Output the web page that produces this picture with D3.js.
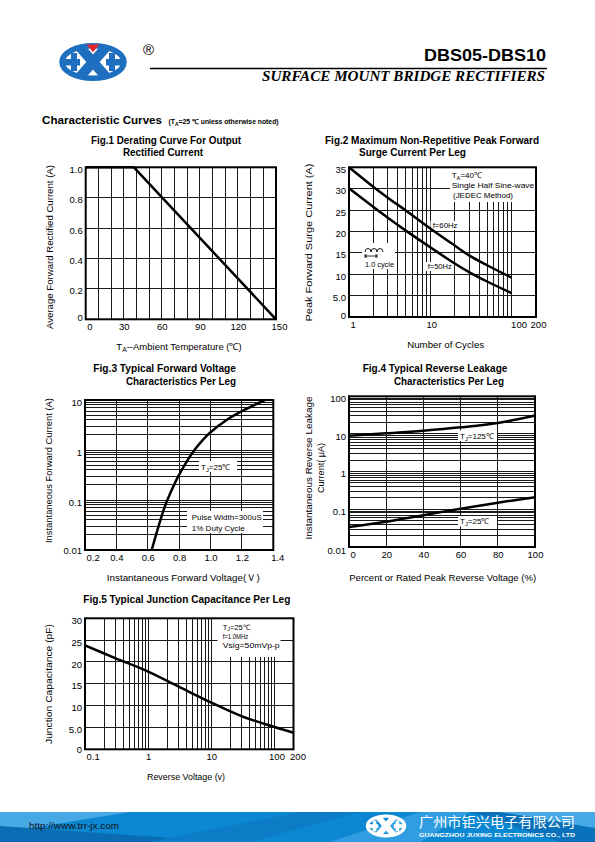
<!DOCTYPE html>
<html><head><meta charset="utf-8">
<script src="https://cdn.jsdelivr.net/npm/d3@7"></script>
<style>
html,body{margin:0;padding:0;background:#fff;}
svg{display:block;}
</style></head><body>
<svg id="page" width="595" height="842"></svg>
<script>
// ---------------- DATA ----------------
const fig1TempC = [0, 38, 150];
const fig1CurrentA = [1.0, 1.0, 0.0];
const fig1XTicks = [0, 30, 60, 90, 120, 150];
const fig1XLabels = ["0", "30", "60", "90", "120", "150"];
const fig1YTicks = [0, 0.2, 0.4, 0.6, 0.8, 1.0];
const fig1YLabels = ["0", "0.2", "0.4", "0.6", "0.8", "1.0"];

const fig2Cycles = [1, 2, 3, 5, 10, 20, 30, 50, 100];
const fig2Surge60Hz = [35, 30.4, 27.9, 24.9, 20.7, 16.7, 14.4, 12.1, 9.2];
const fig2Surge50Hz = [30.1, 25.7, 23.2, 20.2, 16.3, 12.5, 10.5, 8.3, 5.6];
const fig2XTicks = [1, 10, 100, 200];
const fig2XLabels = ["1", "10", "100", "200"];
const fig2YTicks = [0, 5, 10, 15, 20, 25, 30, 35];
const fig2YLabels = ["0", "5.0", "10", "15", "20", "25", "30", "35"];

const fig3VoltageV = [0.625, 0.7, 0.725, 0.79, 0.85, 0.9, 0.95, 1.0, 1.1, 1.2, 1.347];
const fig3CurrentA = [0.01, 0.062, 0.1, 0.28, 0.6, 1.02, 1.58, 2.26, 3.94, 5.96, 10];
const fig3XTicks = [0.2, 0.4, 0.6, 0.8, 1.0, 1.2, 1.4];
const fig3XLabels = ["0.2", "0.4", "0.6", "0.8", "1.0", "1.2", "1.4"];
const fig3YTicks = [0.01, 0.1, 1, 10];
const fig3YLabels = ["0.01", "0.1", "1", "10"];

const fig4PercentVr = [0, 20, 40, 60, 80, 100];
const fig4Leak125C = [9.0, 10.4, 12.2, 15.0, 19.6, 31.0];
const fig4Leak25C = [0.034, 0.047, 0.07, 0.104, 0.15, 0.21];
const fig4XTicks = [0, 20, 40, 60, 80, 100];
const fig4XLabels = ["0", "20", "40", "60", "80", "100"];
const fig4YTicks = [0.01, 0.1, 1, 10, 100];
const fig4YLabels = ["0.01", "0.1", "1", "10", "100"];

const fig5VoltageV = [0.1, 0.3, 1, 3, 10, 30, 100, 200];
const fig5CapPF = [23.8, 20.9, 17.8, 14.4, 10.7, 7.6, 5.1, 3.8];
const fig5XTicks = [0.1, 1, 10, 100, 200];
const fig5XLabels = ["0.1", "1", "10", "100", "200"];
const fig5YTicks = [0, 5, 10, 15, 20, 25, 30];
const fig5YLabels = ["0", "5.0", "10", "15", "20", "25", "30"];

// ---------------- RENDER ----------------
const FONT = "'Liberation Sans', Arial, Helvetica, sans-serif";
const svg = d3.select("#page");

function addText(parent, x, y, s, o = {}) {
  const size = o.size || 10;
  const t = parent.append("text").attr("x", x).attr("y", y)
    .attr("font-size", size).attr("font-family", o.family || FONT)
    .attr("font-weight", o.weight || "normal").attr("fill", o.fill || "#000")
    .attr("text-anchor", o.anchor || "start");
  if (o.italic) t.attr("font-style", "italic");
  if (o.rotate) t.attr("transform", `rotate(-90,${x},${y})`);
  if (o.parts) {
    o.parts.forEach(p => {
      const ts = t.append("tspan").text(p.t);
      if (p.sub) ts.attr("font-size", size * 0.72).attr("dy", size * 0.25);
      if (p.back) ts.attr("dy", -size * 0.25);
    });
  } else t.text(s);
  if (o.w) t.attr("textLength", o.w).attr("lengthAdjust", "spacingAndGlyphs");
  return t;
}

function logMinor(lo, hi) {
  const out = [];
  for (let e = Math.floor(Math.log10(lo)); e <= Math.ceil(Math.log10(hi)); e++) {
    for (let k = 1; k <= 9; k++) {
      const v = +(k * Math.pow(10, e)).toPrecision(6);
      if (v > lo * 1.0001 && v < hi * 0.9999) out.push(v);
    }
  }
  return out;
}

function drawPanel(c) {
  const g = svg.append("g");
  const x = (c.xLog ? d3.scaleLog() : d3.scaleLinear()).domain(c.xDomain).range([c.left, c.right]);
  const y = (c.yLog ? d3.scaleLog() : d3.scaleLinear()).domain(c.yDomain).range([c.bottom, c.top]);

  const gv = g.append("g").attr("stroke", "#1a1a1a").attr("stroke-width", 1).attr("shape-rendering", "crispEdges");
  gv.selectAll("line").data(c.xGrid).join("line")
    .attr("x1", d => x(d)).attr("x2", d => x(d)).attr("y1", c.top).attr("y2", c.bottom);
  const gh = g.append("g").attr("stroke", "#1a1a1a").attr("stroke-width", 1).attr("shape-rendering", "crispEdges");
  gh.selectAll("line").data(c.yGrid).join("line")
    .attr("x1", c.left).attr("x2", c.right).attr("y1", d => y(d)).attr("y2", d => y(d));

  g.append("g").selectAll("rect").data(c.boxes || []).join("rect")
    .attr("x", d => d[0]).attr("y", d => d[1]).attr("width", d => d[2]).attr("height", d => d[3])
    .attr("fill", "#fff");

  const line = d3.line().x(d => x(d[0])).y(d => y(d[1])).curve(c.curve || d3.curveCatmullRom.alpha(0.5));
  c.series.forEach(s => {
    g.append("path").datum(s.x.map((v, i) => [v, s.y[i]])).attr("d", line)
      .attr("fill", "none").attr("stroke", "#000").attr("stroke-width", 2.5)
      .attr("stroke-linejoin", "round");
  });

  g.append("rect").attr("x", c.left).attr("y", c.top)
    .attr("width", c.right - c.left).attr("height", c.bottom - c.top)
    .attr("fill", "none").attr("stroke", "#000").attr("stroke-width", 2);

  const ax = d3.axisBottom(x).tickValues(c.xTicks).tickFormat((d, i) => c.xLabels[i]).tickSize(0).tickPadding(4);
  const axg = g.append("g").attr("transform", `translate(0,${c.bottom})`).call(ax);
  axg.select(".domain").remove();
  axg.selectAll(".tick line").remove();
  axg.attr("font-family", FONT).attr("font-size", 9.5);
  axg.selectAll(".tick text").each(function (d, i) {
    const t = d3.select(this).attr("fill", "#000");
    if (i === 0) t.attr("text-anchor", "start").attr("x", 1);
    if (c.xDx && c.xDx[i]) t.attr("dx", c.xDx[i]);
  });
  const ay = d3.axisLeft(y).tickValues(c.yTicks).tickFormat((d, i) => c.yLabels[i]).tickSize(0).tickPadding(3);
  const ayg = g.append("g").attr("transform", `translate(${c.left},0)`).call(ay);
  ayg.select(".domain").remove();
  ayg.selectAll(".tick line").remove();
  ayg.attr("font-family", FONT).attr("font-size", 9.5);
  ayg.selectAll(".tick text").each(function (d, i) {
    d3.select(this).attr("fill", "#000").attr("y", i === 0 ? (c.bottomDy != null ? c.bottomDy : -2) : 2);
  });
  return g;
}

// ---------------- HEADER ----------------
function logo(cx, cy, s, col, tri) {
  const g = svg.append("g").attr("transform", `translate(${cx},${cy}) scale(${s})`);
  const id = "clip" + Math.round(cx);
  g.append("clipPath").attr("id", id).append("ellipse").attr("rx", 30).attr("ry", 15.5);
  g.append("ellipse").attr("rx", 31).attr("ry", 16.3).attr("fill", "none").attr("stroke", col).attr("stroke-width", 5.5);
  const inner = g.append("g").attr("clip-path", `url(#${id})`);
  inner.append("line").attr("x1", -15).attr("y1", -17).attr("x2", 15).attr("y2", 17).attr("stroke", col).attr("stroke-width", 10);
  inner.append("line").attr("x1", 15).attr("y1", -17).attr("x2", -15).attr("y2", 17).attr("stroke", col).attr("stroke-width", 10);
  inner.append("rect").attr("x", -30).attr("y", -3).attr("width", 17).attr("height", 6.5).attr("fill", col);
  inner.append("rect").attr("x", 13).attr("y", -3).attr("width", 17).attr("height", 6.5).attr("fill", col);
  inner.append("rect").attr("x", -22).attr("y", -9).attr("width", 6).attr("height", 18).attr("fill", col);
  inner.append("rect").attr("x", 16).attr("y", -9).attr("width", 6).attr("height", 18).attr("fill", col);
  if (tri) g.append("path").attr("d", "M-6.5,-17.5 L6.5,-17.5 L0,-10 Z").attr("fill", tri);
}
logo(93, 62, 1.0, "#1f6fc1", "#e0242a");
addText(svg, 143, 55, "®", { size: 15 });
addText(svg, 546, 61, "DBS05-DBS10", { size: 17, weight: "bold", anchor: "end", w: 122 });
svg.append("line").attr("x1", 150).attr("x2", 547).attr("y1", 68.5).attr("y2", 68.5).attr("stroke", "#000").attr("stroke-width", 1.6);
addText(svg, 545, 80.5, "SURFACE MOUNT BRIDGE RECTIFIERS", { size: 15, weight: "bold", italic: true, anchor: "end", family: "'Liberation Serif','Times New Roman',serif", w: 283 });

addText(svg, 42, 124, "Characteristic Curves", { size: 11.8, weight: "bold", w: 120 });
addText(svg, 168.5, 124, null, { size: 6.8, weight: "bold", parts: [{ t: "(T" }, { t: "A", sub: true }, { t: "=25 ℃ unless otherwise noted)", back: true }] });

// ---------------- FIG 1 ----------------
addText(svg, 166, 143.8, "Fig.1 Derating Curve For Output", { size: 10.5, weight: "bold", anchor: "middle", w: 150 });
addText(svg, 163, 155.5, "Rectified Current", { size: 10.5, weight: "bold", anchor: "middle", w: 80 });
drawPanel({
  left: 85.7, right: 276, top: 167.3, bottom: 319.3,
  xDomain: [0, 150], yDomain: [0, 1],
  xGrid: d3.range(10, 150, 10), yGrid: [0.2, 0.4, 0.6, 0.8],
  xTicks: fig1XTicks, xLabels: fig1XLabels, yTicks: fig1YTicks, yLabels: fig1YLabels,
  xDx: [0, 0, 0, 0, 0, 3],
  curve: d3.curveLinear,
  series: [{ x: fig1TempC, y: fig1CurrentA }]
});
addText(svg, 53, 247, "Average Forward Rectified Current (A)", { size: 9.5, anchor: "middle", rotate: true, w: 164 });
addText(svg, 179, 350, null, { size: 9.5, anchor: "middle", parts: [{ t: "T" }, { t: "A", sub: true }, { t: "--Ambient Temperature (℃)", back: true }] });

// ---------------- FIG 2 ----------------
addText(svg, 325, 143.8, "Fig.2 Maximum Non-Repetitive Peak Forward", { size: 10.5, weight: "bold", w: 214 });
addText(svg, 359, 155.5, "Surge Current Per Leg", { size: 10.5, weight: "bold", w: 107 });
drawPanel({
  left: 349, right: 536, top: 167.3, bottom: 317,
  xLog: true, xDomain: [1, 200], yDomain: [0, 35],
  xGrid: [2, 3, 4, 5, 6, 7, 8, 9, 10, 20, 30, 40, 50, 60, 70, 80, 90, 100], yGrid: [5, 10, 15, 20, 25, 30],
  xTicks: fig2XTicks, xLabels: fig2XLabels, yTicks: fig2YTicks, yLabels: fig2YLabels,
  xDx: [0, 1, 7, 2],
  boxes: [[450, 168, 85, 34], [430.5, 221, 28, 9], [426, 262, 28, 9], [362, 243, 33, 26]],
  series: [{ x: fig2Cycles, y: fig2Surge60Hz }, { x: fig2Cycles, y: fig2Surge50Hz }]
});
addText(svg, 451.7, 178, null, { size: 8, parts: [{ t: "T" }, { t: "A", sub: true }, { t: "=40℃", back: true }] });
addText(svg, 451.7, 188, "Single Half Sine-wave", { size: 8, w: 82.6 });
addText(svg, 453, 198, "(JEDEC Method)", { size: 8, w: 60 });
addText(svg, 432.7, 228, "f=60Hz", { size: 8, w: 24.7 });
addText(svg, 427.7, 269, "f=50Hz", { size: 8, w: 24 });
addText(svg, 365, 267, "1.0 cycle", { size: 8, w: 29 });
svg.append("path").attr("d", "M365,252 a3,3.5 0 0 1 6,0 a3,3.5 0 0 1 6,0 a3,3.5 0 0 1 6,0")
  .attr("fill", "none").attr("stroke", "#000").attr("stroke-width", 0.9);
svg.append("path").attr("d", "M365,254 L365,258 M377,254 L377,258 M365,256 L377,256 M365,256 l2,-1.3 M365,256 l2,1.3 M377,256 l-2,-1.3 M377,256 l-2,1.3")
  .attr("fill", "none").attr("stroke", "#000").attr("stroke-width", 0.8);
addText(svg, 311.5, 242.5, "Peak Forward Surge Current (A)", { size: 9.5, anchor: "middle", rotate: true, w: 158 });
addText(svg, 445.7, 347.5, "Number of Cycles", { size: 9.5, anchor: "middle", w: 77 });

// ---------------- FIG 3 ----------------
addText(svg, 93.3, 371.8, "Fig.3 Typical Forward Voltage", { size: 10.5, weight: "bold", w: 142.7 });
addText(svg, 126, 385, "Characteristics Per Leg", { size: 10.5, weight: "bold", w: 110 });
drawPanel({
  left: 85, right: 273.3, top: 400, bottom: 550,
  xDomain: [0.2, 1.4], yLog: true, yDomain: [0.01, 10],
  xGrid: [0.4, 0.6, 0.8, 1.0, 1.2], yGrid: logMinor(0.01, 10),
  xTicks: fig3XTicks, xLabels: fig3XLabels, yTicks: fig3YTicks, yLabels: fig3YLabels,
  xDx: [0, 0, 0, 0, 0, 0, 4], bottomDy: 0,
  boxes: [[199, 461, 38, 11], [187, 511, 76, 22]],
  series: [{ x: fig3VoltageV, y: fig3CurrentA }]
});
addText(svg, 201, 469.7, null, { size: 8, parts: [{ t: "T" }, { t: "J", sub: true }, { t: "=25℃", back: true }] });
addText(svg, 191.7, 519.7, "Pulse Width=300uS", { size: 8, w: 70 });
addText(svg, 191.7, 531.3, "1% Duty Cycle", { size: 8, w: 53 });
addText(svg, 52, 470.5, "Instantaneous Forward Current (A)", { size: 9.5, anchor: "middle", rotate: true, w: 145 });
addText(svg, 183.3, 581, "Instantaneous Forward Voltage(Ｖ)", { size: 9.5, anchor: "middle", w: 153 });

// ---------------- FIG 4 ----------------
addText(svg, 362.7, 371.8, "Fig.4 Typical Reverse Leakage", { size: 10.5, weight: "bold", w: 144.7 });
addText(svg, 394, 385, "Characteristics Per Leg", { size: 10.5, weight: "bold", w: 110 });
drawPanel({
  left: 349, right: 535, top: 396.3, bottom: 547,
  xDomain: [0, 100], yLog: true, yDomain: [0.01, 100],
  xGrid: [20, 40, 60, 80], yGrid: logMinor(0.01, 100),
  xTicks: fig4XTicks, xLabels: fig4XLabels, yTicks: fig4YTicks, yLabels: fig4YLabels,
  bottomDy: 3,
  boxes: [[458, 430.5, 39, 10.5], [458, 516, 39, 10.5]],
  series: [{ x: fig4PercentVr, y: fig4Leak125C }, { x: fig4PercentVr, y: fig4Leak25C }]
});
addText(svg, 460, 438.7, null, { size: 8, parts: [{ t: "T" }, { t: "J", sub: true }, { t: "=125℃", back: true }] });
addText(svg, 460, 523.7, null, { size: 8, parts: [{ t: "T" }, { t: "J", sub: true }, { t: "=25℃", back: true }] });
addText(svg, 312, 468, "Instantaneous Reverse Leakage", { size: 9.5, anchor: "middle", rotate: true, w: 143 });
addText(svg, 324, 468, "Current( μA)", { size: 9.5, anchor: "middle", rotate: true, w: 50 });
addText(svg, 442.7, 581, "Percent or Rated Peak Reverse Voltage (%)", { size: 9.5, anchor: "middle", w: 187 });

// ---------------- FIG 5 ----------------
addText(svg, 83.3, 602.5, "Fig.5 Typical Junction Capacitance Per Leg", { size: 10.5, weight: "bold", w: 207 });
drawPanel({
  left: 85, right: 293.5, top: 618.3, bottom: 749.3,
  xLog: true, xDomain: [0.1, 200], yDomain: [0, 30],
  xGrid: logMinor(0.1, 100).concat([100]), yGrid: [5, 10, 15, 20, 25],
  xTicks: fig5XTicks, xLabels: fig5XLabels, yTicks: fig5YTicks, yLabels: fig5YLabels,
  xDx: [0, 0, 0, 2, 4], bottomDy: 0,
  boxes: [[217.5, 619, 63, 38]],
  series: [{ x: fig5VoltageV, y: fig5CapPF }]
});
addText(svg, 222.7, 629.5, null, { size: 7.5, parts: [{ t: "T" }, { t: "J", sub: true }, { t: "=25℃", back: true }] });
addText(svg, 222.7, 639.3, "f=1.0MHz", { size: 7.5, w: 25.6 });
addText(svg, 222.7, 647.5, "Vsig=50mVp-p", { size: 7.5, w: 57 });
addText(svg, 52, 684, "Junction Capacitance (pF)", { size: 9.5, anchor: "middle", rotate: true, w: 120 });
addText(svg, 186, 780, "Reverse Voltage (v)", { size: 9.5, anchor: "middle", w: 78 });

// ---------------- FOOTER ----------------
const ft = svg.append("g");
ft.append("rect").attr("x", 0).attr("y", 812).attr("width", 595).attr("height", 30).attr("fill", "#0c88d3");
const facets = [
  ["0,812 130,812 0,833", "#46a9e6"],
  ["0,826 230,842 0,842", "#0a6db3"],
  ["150,842 300,812 360,812 250,842", "#0b7cc5"],
  ["330,842 420,812 470,812 420,842", "#2f9ddf"],
  ["470,812 595,812 595,842 560,842", "#0a72bb"],
  ["500,812 595,812 595,828", "#46a9e6"]
];
ft.selectAll("polygon").data(facets).join("polygon").attr("points", d => d[0]).attr("fill", d => d[1]);
addText(svg, 29, 829, "http://www.trr-jx.com", { size: 8.5, fill: "#111", w: 90 });
logo(386, 826, 0.6, "#ffffff", null);
addText(svg, 419, 827, "广州市钜兴电子有限公司", { size: 13.5, fill: "#fff", family: "'Noto Sans CJK SC', sans-serif", w: 156 });
addText(svg, 419, 836.5, "GUANGZHOU JUXING ELECTRONICS CO., LTD", { size: 5.5, fill: "#fff", weight: "bold", w: 156 });
</script>
</body></html>
